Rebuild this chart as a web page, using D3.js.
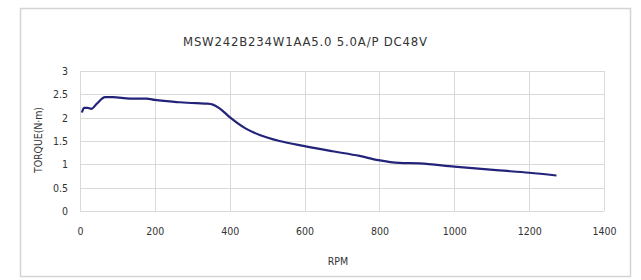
<!DOCTYPE html>
<html>
<head>
<meta charset="utf-8">
<script src="https://cdn.jsdelivr.net/npm/d3@7"></script>
<style>
  body { margin: 0; background: #fff; }
  text { font-family: "DejaVu Sans Condensed", "DejaVu Sans", sans-serif; fill: #333; }
</style>
</head>
<body>
<script>
// torque curve
const rpm = [5, 11, 20, 30, 45, 67, 88, 133, 178, 200, 267, 311, 340, 355, 373, 400, 442, 480, 533, 600, 675, 747, 797, 853, 907, 1000, 1120, 1200, 1273];
const torque = [2.11, 2.21, 2.21, 2.19, 2.3, 2.44, 2.44, 2.41, 2.41, 2.38, 2.33, 2.31, 2.3, 2.28, 2.2, 2.01, 1.77, 1.63, 1.5, 1.39, 1.28, 1.18, 1.09, 1.03, 1.02, 0.95, 0.87, 0.82, 0.76];
const xTicks = [0, 200, 400, 600, 800, 1000, 1200, 1400];
const yTicks = [0, 0.5, 1, 1.5, 2, 2.5, 3];
const title = "MSW242B234W1AA5.0 5.0A/P DC48V";

const width = 641, height = 280;
const margin = { left: 80, right: 37, top: 71, bottom: 69 };

const svg = d3.select("body").append("svg")
    .attr("width", width)
    .attr("height", height);

// outer frame
svg.append("rect")
    .attr("x", 20.5).attr("y", 8.5)
    .attr("width", 610).attr("height", 268)
    .attr("fill", "none")
    .attr("stroke", "#d4d4d4")
    .attr("stroke-width", 1.5);

const x = d3.scaleLinear().domain([0, 1400]).range([margin.left, width - margin.right]);
const y = d3.scaleLinear().domain([0, 3]).range([height - margin.bottom, margin.top]);

// grid
svg.append("g")
    .selectAll("line")
    .data(yTicks)
    .join("line")
    .attr("x1", x(0)).attr("x2", x(1400))
    .attr("y1", (d) => Math.round(y(d)) + 0.5)
    .attr("y2", (d) => Math.round(y(d)) + 0.5)
    .attr("stroke", "#d9d9d9");

svg.append("g")
    .selectAll("line")
    .data(xTicks)
    .join("line")
    .attr("x1", (d) => Math.round(x(d)) + 0.5)
    .attr("x2", (d) => Math.round(x(d)) + 0.5)
    .attr("y1", y(0)).attr("y2", y(3))
    .attr("stroke", "#d9d9d9");

// axes with no domain / ticks, just labels
const xAxis = svg.append("g")
    .attr("transform", `translate(0,${y(0)})`)
    .call(d3.axisBottom(x).tickValues(xTicks).tickSize(0).tickPadding(17).tickFormat(d3.format("d")));
xAxis.select(".domain").remove();
xAxis.selectAll("text").style("font-size", "10.5px").attr("fill", "#333");

const yAxis = svg.append("g")
    .attr("transform", `translate(${x(0)},0)`)
    .call(d3.axisLeft(y).tickValues(yTicks).tickSize(0).tickPadding(12).tickFormat((d) => String(d)));
yAxis.select(".domain").remove();
yAxis.selectAll("text").style("font-size", "10.5px").attr("fill", "#333");

// curve
const line = d3.line()
    .x((d, i) => x(rpm[i]))
    .y((d) => y(d))
    .curve(d3.curveMonotoneX);

svg.append("path")
    .datum(torque)
    .attr("d", line)
    .attr("fill", "none")
    .attr("stroke", "#23237a")
    .attr("stroke-width", 2.2)
    .attr("stroke-linejoin", "round");

// titles
svg.append("text")
    .attr("x", 305).attr("y", 46)
    .attr("text-anchor", "middle")
    .attr("textLength", 244)
    .style("font-size", "13px")
    .text(title);

svg.append("text")
    .attr("x", 338).attr("y", 265)
    .attr("text-anchor", "middle")
    .style("font-size", "10.5px")
    .text("RPM");

svg.append("text")
    .attr("transform", "translate(42,140) rotate(-90)")
    .attr("text-anchor", "middle")
    .attr("textLength", 66)
    .style("font-size", "10.5px")
    .text("TORQUE(N·m)");
</script>
</body>
</html>
